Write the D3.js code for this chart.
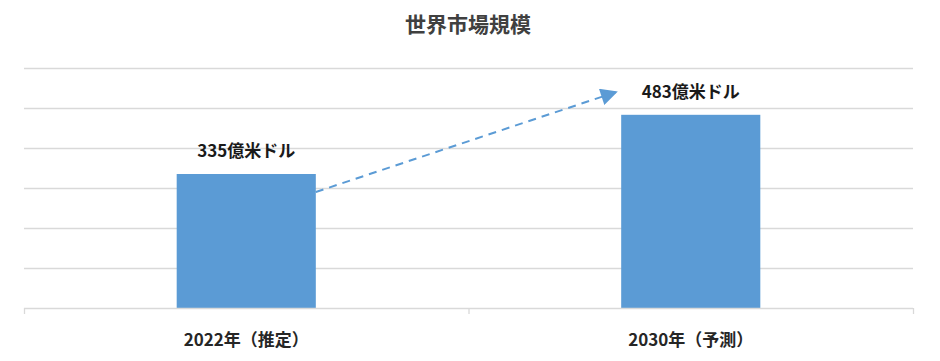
<!DOCTYPE html>
<html>
<head>
<meta charset="utf-8">
<script src="https://cdn.jsdelivr.net/npm/d3@7"></script>
<style>
  body { margin: 0; background: #fff; }
  text { font-family: "Noto Sans CJK JP", "Noto Sans", sans-serif; }
</style>
</head>
<body>
<div id="plot"></div>
<script>
//Chart data
const categories = ["2022年（推定）", "2030年（予測）"];
const values = [335, 483];
const valueLabels = ["335億米ドル", "483億米ドル"];
const yTicks = [100, 200, 300, 400, 500, 600];
//Arrow from the first bar to the second, in data values
const arrowValues = [290, 540];

const w = 940;
const h = 361;
const margin = { top: 68, right: 27, bottom: 53, left: 24 };
const barColor = "#5b9bd5";
const gridColor = "#d9d9d9";

const svg = d3.select("#plot")
    .append("svg")
    .attr("width", w)
    .attr("height", h);

//x: one slot per category, bar takes part of the slot
const x = d3.scaleBand()
    .domain(categories)
    .range([margin.left, w - margin.right])
    .padding(0);
const barW = x.bandwidth() * 0.313;

const y = d3.scaleLinear()
    .domain([0, 600])
    .range([h - margin.bottom, margin.top]);

//Title
svg.append("text")
    .attr("x", 468)
    .attr("y", 32)
    .attr("text-anchor", "middle")
    .attr("font-size", 21)
    .attr("font-weight", "bold")
    .attr("fill", "#404040")
    .text("世界市場規模");

//Gridlines
svg.append("g")
    .selectAll("line")
    .data(yTicks)
    .join("line")
    .attr("x1", margin.left)
    .attr("x2", w - margin.right)
    .attr("y1", d => Math.round(y(d)) + 0.5)
    .attr("y2", d => Math.round(y(d)) + 0.5)
    .attr("stroke", gridColor)
    .attr("stroke-width", 1.3);

//Bars
svg.append("g")
    .selectAll("rect")
    .data(values)
    .join("rect")
    .attr("x", (d, i) => x(categories[i]) + (x.bandwidth() - barW) / 2)
    .attr("y", d => y(d))
    .attr("width", barW)
    .attr("height", d => y(0) - y(d))
    .attr("fill", barColor);

//x axis with the slot ticks
const xAxis = d3.axisBottom(x)
    .tickSize(0)
    .tickPadding(26);
const gx = svg.append("g")
    .attr("transform", "translate(0," + y(0) + ")")
    .call(xAxis);
gx.select(".domain").remove();
gx.selectAll("text")
    .attr("font-size", 17)
    .attr("font-weight", "bold")
    .attr("fill", "#262626")
    .attr("font-family", "Noto Sans CJK JP");

svg.append("line")
    .attr("x1", margin.left)
    .attr("x2", w - margin.right)
    .attr("y1", y(0) + 0.5)
    .attr("y2", y(0) + 0.5)
    .attr("stroke", gridColor)
    .attr("stroke-width", 1.3);

const slotEdges = categories.map(c => x(c)).concat([x(categories[1]) + x.bandwidth()]);
svg.append("g")
    .selectAll("line")
    .data(slotEdges)
    .join("line")
    .attr("x1", d => d + 0.5)
    .attr("x2", d => d + 0.5)
    .attr("y1", y(0))
    .attr("y2", y(0) + 6)
    .attr("stroke", gridColor)
    .attr("stroke-width", 1.3);

//Value labels
svg.append("g")
    .selectAll("text")
    .data(values)
    .join("text")
    .attr("x", (d, i) => x(categories[i]) + x.bandwidth() / 2)
    .attr("y", d => y(d) - 17)
    .attr("text-anchor", "middle")
    .attr("font-size", 17)
    .attr("font-weight", "bold")
    .attr("fill", "#1a1a1a")
    .text((d, i) => valueLabels[i]);

//Dashed growth arrow
svg.append("defs").append("marker")
    .attr("id", "head")
    .attr("viewBox", "0 0 10 10")
    .attr("refX", 9)
    .attr("refY", 5)
    .attr("markerWidth", 20)
    .attr("markerHeight", 17)
    .attr("markerUnits", "userSpaceOnUse")
    .attr("orient", "auto")
    .append("path")
    .attr("d", "M0,0L10,5L0,10Z")
    .attr("fill", barColor);

const ax1 = x(categories[0]) + (x.bandwidth() + barW) / 2;
const ax2 = x(categories[1]) + (x.bandwidth() - barW) / 2 - 5;
svg.append("line")
    .attr("x1", ax1)
    .attr("y1", y(arrowValues[0]))
    .attr("x2", ax2)
    .attr("y2", y(arrowValues[1]))
    .attr("stroke", barColor)
    .attr("stroke-width", 2)
    .attr("stroke-dasharray", "8,6")
    .attr("marker-end", "url(#head)");
</script>
</body>
</html>
